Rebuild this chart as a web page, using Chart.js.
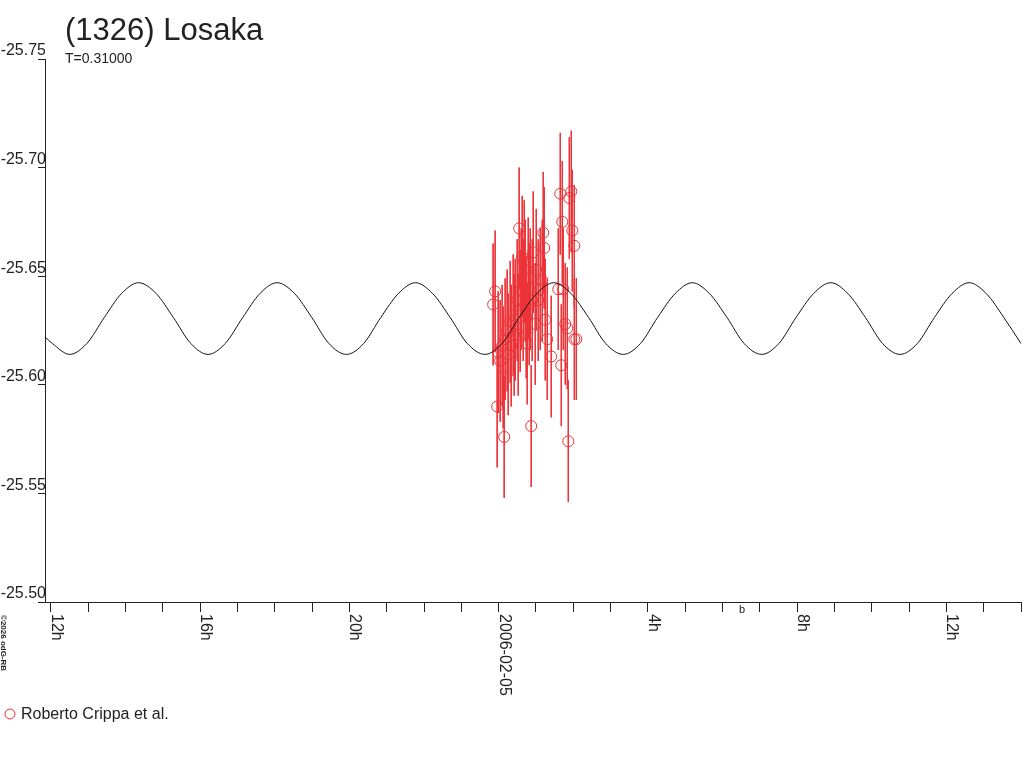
<!DOCTYPE html>
<html>
<head>
<meta charset="utf-8">
<script src="https://cdn.jsdelivr.net/npm/chart.js@4/dist/chart.umd.min.js"></script>
<style>
    html, body { margin: 0; padding: 0; background: #ffffff; }
    #wrap { width: 1024px; height: 768px; }
</style>
</head>
<body>
<div id="wrap"><canvas id="canvasChart" width="1024" height="768"></canvas></div>
<script>
// hours relative to 2006-02-05 00:00 UT
const curveHours = [-12.16, -11.96, -11.50, -11.04, -10.57, -10.11, -9.65, -9.18, -8.72, -8.25,
    -7.79, -7.33, -6.86, -6.40, -5.94, -5.47, -5.01, -4.55, -4.08, -3.62,
    -3.16, -2.69, -2.23, -1.77, -1.30, -0.84, -0.37, 0.09, 0.55, 1.02,
    1.48, 1.94, 2.41, 2.87, 3.34, 3.80, 4.26, 4.73, 5.19, 5.65,
    6.12, 6.58, 7.05, 7.51, 7.97, 8.44, 8.90, 9.36, 9.83, 10.29,
    10.76, 11.22, 11.68, 12.15, 12.61, 13.07, 13.54, 14.00];
const curveMag = [-25.622, -25.619,
    -25.614, -25.619, -25.631, -25.642, -25.647, -25.642, -25.631, -25.619,
    -25.614, -25.619, -25.631, -25.642, -25.647, -25.642, -25.631, -25.619,
    -25.614, -25.619, -25.631, -25.642, -25.647, -25.642, -25.631, -25.619,
    -25.614, -25.619, -25.631, -25.642, -25.647, -25.642, -25.631, -25.619,
    -25.614, -25.619, -25.631, -25.642, -25.647, -25.642, -25.631, -25.619,
    -25.614, -25.619, -25.631, -25.642, -25.647, -25.642, -25.631, -25.619,
    -25.614, -25.619, -25.631, -25.642, -25.647, -25.642, -25.631, -25.619];

const obsHours = [-0.148, -0.094, -0.040, -0.013, 0.040, 0.094, 0.121, 0.148, 0.174, 0.228,
    0.255, 0.309, 0.336, 0.389, 0.416, 0.443, 0.497, 0.523, 0.550, 0.577,
    0.604, 0.631, 0.658, 0.685, 0.711, 0.738, 0.765, 0.792, 0.819, 0.846,
    0.872, 0.899, 0.926, 0.980, 1.007, 1.060, 1.114, 1.168, 1.195, 1.221,
    1.248, 1.302, 1.409, 1.597, 1.651, 1.678, 1.705, 1.732, 1.785, 1.839,
    1.866, 1.893, 1.946, 1.973, 2.027, 2.027, 2.081];
const obsMag = [-25.637, -25.643, -25.590, -25.615, -25.611, -25.618, -25.608, -25.576, -25.621, -25.625,
    -25.614, -25.629, -25.618, -25.632, -25.623, -25.630, -25.639, -25.623, -25.672, -25.634,
    -25.644, -25.659, -25.639, -25.657, -25.648, -25.631, -25.619, -25.649, -25.637, -25.644,
    -25.581, -25.639, -25.661, -25.628, -25.653, -25.639, -25.644, -25.648, -25.670, -25.663,
    -25.630, -25.621, -25.613, -25.644, -25.688, -25.609, -25.675, -25.644, -25.628, -25.626,
    -25.574, -25.686, -25.689, -25.671, -25.664, -25.621, -25.621];
const obsErr = [0.028, 0.028, 0.028, 0.028, 0.028, 0.028, 0.028, 0.028, 0.028, 0.028,
    0.028, 0.028, 0.028, 0.028, 0.028, 0.028, 0.028, 0.028, 0.028, 0.028,
    0.028, 0.028, 0.028, 0.028, 0.028, 0.028, 0.028, 0.028, 0.028, 0.028,
    0.028, 0.028, 0.028, 0.028, 0.028, 0.028, 0.028, 0.028, 0.028, 0.028,
    0.028, 0.028, 0.028, 0.028, 0.028, 0.028, 0.028, 0.028, 0.028, 0.028,
    0.028, 0.028, 0.028, 0.028, 0.028, 0.028, 0.028];

const xTickHours = [-12, -8, -4, 0, 4, 8, 12];
const xTickLabels = ['12h', '16h', '20h', '2006-02-05', '4h', '8h', '12h'];

const RED = '#ec3338';
const INK = '#222222';
const FONT = '"Liberation Sans", Arial, sans-serif';

let curvePoints = [];
for(let i = 0; i < curveHours.length; i++){
    curvePoints.push({x: curveHours[i], y: curveMag[i]});
}

let obsPoints = [];
let errPoints = [];
for(let i = 0; i < obsHours.length; i++){
    obsPoints.push({x: obsHours[i], y: obsMag[i]});
    errPoints.push({x: obsHours[i], y: obsMag[i] - obsErr[i]});
    errPoints.push({x: obsHours[i], y: obsMag[i] + obsErr[i]});
    errPoints.push({x: obsHours[i], y: null});
}

// texts outside the plot: title, legend, rotated x labels
const decorations = {
    id: 'decorations',
    afterDraw(chart){
        const ctx = chart.ctx;
        const xs = chart.scales.x;
        ctx.save();
        ctx.fillStyle = INK;
        ctx.textBaseline = 'alphabetic';
        ctx.textAlign = 'left';
        ctx.font = '31px ' + FONT;
        ctx.fillText('(1326) Losaka', 65, 40);
        ctx.font = '14px ' + FONT;
        ctx.fillText('T=0.31000', 65, 63);

        ctx.font = '16px ' + FONT;
        for(let i = 0; i < xTickHours.length; i++){
            const px = Math.round(xs.getPixelForValue(xTickHours[i]));
            ctx.save();
            ctx.translate(px + 1, 614);
            ctx.rotate(Math.PI / 2);
            ctx.fillText(xTickLabels[i], 0, 0);
            ctx.restore();
        }

        ctx.font = 'bold 8px ' + FONT;
        ctx.save();
        ctx.translate(1, 615);
        ctx.rotate(Math.PI / 2);
        ctx.fillText('\u00a92026 odG-RB', 0, 0);
        ctx.restore();

        ctx.font = '11px ' + FONT;
        ctx.fillText('b', 739, 613);

        // legend
        ctx.strokeStyle = RED;
        ctx.lineWidth = 1;
        ctx.beginPath();
        ctx.arc(10, 714, 5, 0, Math.PI * 2);
        ctx.stroke();
        ctx.font = '16px ' + FONT;
        ctx.fillText('Roberto Crippa et al.', 21, 719);
        ctx.restore();
    }
};

let config = {
    type: 'scatter',
    data: {
        datasets: [
            {
                label: 'model',
                data: curvePoints,
                showLine: true,
                borderColor: '#111111',
                borderWidth: 1,
                pointRadius: 0,
                pointHoverRadius: 0,
                cubicInterpolationMode: 'monotone',
                order: 0
            },
            {
                label: 'Roberto Crippa et al.',
                data: obsPoints,
                showLine: false,
                pointStyle: 'circle',
                pointRadius: 5.5,
                pointBorderWidth: 1,
                pointBorderColor: RED,
                pointBackgroundColor: 'rgba(0,0,0,0)',
                order: 1
            },
            {
                label: 'errors',
                data: errPoints,
                showLine: true,
                spanGaps: false,
                borderColor: RED,
                borderWidth: 1,
                pointRadius: 0,
                pointHoverRadius: 0,
                order: 2
            }
        ]
    },
    options: {
        responsive: false,
        animation: false,
        devicePixelRatio: 1,
        layout: { autoPadding: false, padding: { top: 59, right: 3, bottom: 0, left: 0 } },
        plugins: {
            legend: { display: false },
            tooltip: { enabled: false },
            title: { display: false }
        },
        scales: {
            x: {
                type: 'linear',
                min: -12.16,
                max: 14.0,
                afterFit(scale){ scale.height = 166; },
                border: { display: true, color: INK, width: 1 },
                grid: { drawOnChartArea: false, drawTicks: true, tickLength: 10, color: INK },
                ticks: {
                    display: false,
                    stepSize: 1,
                    includeBounds: false,
                    autoSkip: false,
                    padding: 0
                }
            },
            y: {
                type: 'linear',
                reverse: true,
                min: -25.75,
                max: -25.50,
                afterFit(scale){ scale.width = 45; },
                border: { display: true, color: INK, width: 1 },
                grid: { drawOnChartArea: false, drawTicks: true, tickLength: 7, color: INK },
                ticks: {
                    stepSize: 0.05,
                    padding: -8,
                    labelOffset: -8,
                    color: INK,
                    font: { family: FONT, size: 16 },
                    callback: (v) => v.toFixed(2)
                }
            }
        }
    },
    plugins: [decorations]
};

const chart = new Chart(document.getElementById('canvasChart').getContext('2d'), config);
</script>
</body>
</html>
